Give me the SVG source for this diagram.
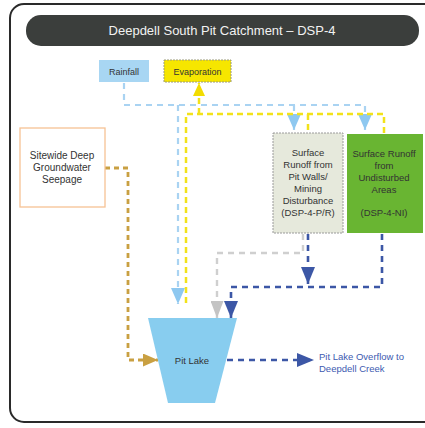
<svg xmlns="http://www.w3.org/2000/svg" width="425" height="428" viewBox="0 0 425 428">
<style>
text{font-family:"Liberation Sans",Arial,sans-serif;text-anchor:middle}
.lb{fill:none;stroke:#a9d3f2;stroke-width:2.2;stroke-dasharray:6 5}
.yl{fill:none;stroke:#f2e21a;stroke-width:2.5;stroke-dasharray:6 4}
.gd{fill:none;stroke:#c9a042;stroke-width:2.8;stroke-dasharray:5 4}
.db{fill:none;stroke:#3c57a6;stroke-width:2.6;stroke-dasharray:6 5}
.gr{fill:none;stroke:#cfcfcf;stroke-width:2.4;stroke-dasharray:6 5}
.t9{font-size:9.5px;fill:#333}
</style>
<defs>
<marker id="aLb" markerUnits="userSpaceOnUse" markerWidth="16" markerHeight="14" refX="16" refY="7" orient="auto"><path d="M0,0 L16,7 L0,14 z" fill="#8ec8f0"/></marker>
<marker id="aYl" markerUnits="userSpaceOnUse" markerWidth="13" markerHeight="12" refX="13" refY="6" orient="auto"><path d="M0,0 L13,6 L0,12 z" fill="#f2dc00"/></marker>
<marker id="aGd" markerUnits="userSpaceOnUse" markerWidth="15" markerHeight="13" refX="15" refY="6.5" orient="auto"><path d="M0,0 L15,6.5 L0,13 z" fill="#c9a042"/></marker>
<marker id="aDb" markerUnits="userSpaceOnUse" markerWidth="17" markerHeight="14" refX="17" refY="7" orient="auto"><path d="M0,0 L17,7 L0,14 z" fill="#3c57a6"/></marker>
<marker id="aGr" markerUnits="userSpaceOnUse" markerWidth="17" markerHeight="13" refX="17" refY="6.5" orient="auto"><path d="M0,0 L17,6.5 L0,13 z" fill="#c4c4c4"/></marker>
</defs>
<rect x="0" y="0" width="425" height="428" fill="#fff"/>
<rect x="10" y="4" width="440" height="418" rx="14" fill="none" stroke="#2a2a2a" stroke-width="2"/>
<g id="title">
<rect x="26" y="15" width="393" height="31" rx="15" fill="#3b3e3c"/>
<text x="222" y="35" font-size="13" style="fill:#f2f2f2">Deepdell South Pit Catchment – DSP-4</text>
</g>
<g id="connectors">
<path class="lb" d="M124,83 V105 H365 V130" marker-end="url(#aLb)"/>
<path class="lb" d="M294,105 V130" marker-end="url(#aLb)"/>
<path class="lb" d="M178,105 V304" marker-end="url(#aLb)"/>
<path class="yl" d="M186,303 V114 H384 V135"/>
<path class="yl" d="M308,114 V133"/>
<path class="yl" d="M199,114 V83" marker-end="url(#aYl)"/>
<path class="gd" d="M105,168 H128 V360 H158" marker-end="url(#aGd)"/>
<path class="gr" d="M303,234 V253 H217 V318" marker-end="url(#aGr)"/>
<path class="db" d="M308,234 V284" marker-end="url(#aDb)"/>
<path class="db" d="M382,234 V287 H231 V318" marker-end="url(#aDb)"/>
<path class="db" d="M227,360 H314" marker-end="url(#aDb)"/>
</g>
<g id="rainfall">
<rect x="99" y="60" width="50" height="22" fill="#a8d6f3"/>
<text x="124" y="75" font-size="9" style="fill:#333">Rainfall</text>
</g>
<g id="evaporation">
<rect x="164" y="60" width="67" height="22" fill="#f6e600" stroke="#9a9a7a" stroke-width="1" stroke-dasharray="2 1"/>
<text x="197.5" y="75" font-size="9" style="fill:#333">Evaporation</text>
</g>
<g id="seepage">
<rect x="20" y="128" width="85" height="79" fill="#fff" stroke="#f6c294" stroke-width="1.3"/>
<text x="62" y="159" font-size="10" style="fill:#333">Sitewide Deep</text>
<text x="62" y="171" font-size="10" style="fill:#333">Groundwater</text>
<text x="62" y="183" font-size="10" style="fill:#333">Seepage</text>
</g>
<g id="pitwalls">
<rect x="273" y="133" width="70" height="100" fill="#e6e9dc" stroke="#9a9a9a" stroke-width="1" stroke-dasharray="2 1"/>
<text class="t9" x="308" y="156">Surface</text>
<text class="t9" x="308" y="168">Runoff from</text>
<text class="t9" x="308" y="180">Pit Walls/</text>
<text class="t9" x="308" y="192">Mining</text>
<text class="t9" x="308" y="204">Disturbance</text>
<text class="t9" x="308" y="216">(DSP-4-P/R)</text>
</g>
<g id="undisturbed">
<rect x="347" y="134" width="76" height="99" fill="#69b532"/>
<text class="t9" x="384" y="157">Surface Runoff</text>
<text class="t9" x="384" y="169">from</text>
<text class="t9" x="384" y="181">Undisturbed</text>
<text class="t9" x="384" y="193">Areas</text>
<text class="t9" x="384" y="216">(DSP-4-NI)</text>
</g>
<g id="pitlake">
<polygon points="148,318 237,318 215,403 168,403" fill="#88cdef"/>
<text x="192" y="364" font-size="9.5" style="fill:#333">Pit Lake</text>
</g>
<g id="overflow">
<text x="319" y="360" font-size="9.5" style="fill:#3d5ab0;text-anchor:start">Pit Lake Overflow to</text>
<text x="319" y="372" font-size="9.5" style="fill:#3d5ab0;text-anchor:start">Deepdell Creek</text>
</g>
</svg>
